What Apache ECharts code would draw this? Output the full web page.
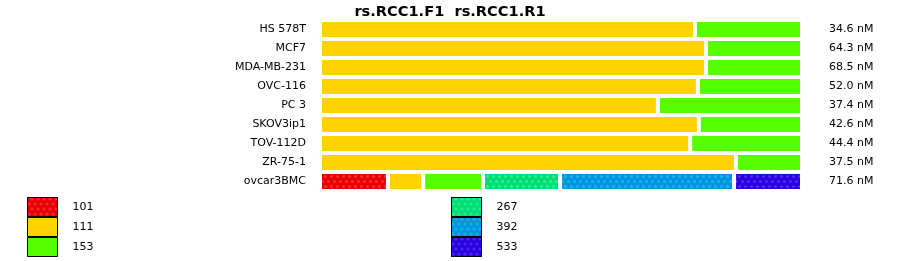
<!DOCTYPE html>
<html>
<head>
<meta charset="utf-8">
<script src="https://cdn.jsdelivr.net/npm/echarts@6/dist/echarts.min.js"></script>
<style>
html,body{margin:0;padding:0;background:#fff;}
#chart{width:900px;height:261px;}
</style>
</head>
<body>
<div id="chart"></div>
<script>
var titleText = 'rs.RCC1.F1  rs.RCC1.R1';
var categories = ['HS 578T','MCF7','MDA-MB-231','OVC-116','PC 3','SKOV3ip1','TOV-112D','ZR-75-1','ovcar3BMC'];
var concentrations = ['34.6 nM','64.3 nM','68.5 nM','52.0 nM','37.4 nM','42.6 nM','44.4 nM','37.5 nM','71.6 nM'];
var seriesNames = ['101','111','153','267','392','533'];
var s101 = [null,null,null,null,null,null,null,null,14.1];
var s111 = [77.8,80.1,80.1,78.4,70.1,78.6,76.8,86.3,7.3];
var s153 = [22.2,19.9,19.9,21.6,29.9,21.4,23.2,13.7,12.4];
var s267 = [null,null,null,null,null,null,null,null,16.0];
var s392 = [null,null,null,null,null,null,null,null,36.1];
var s533 = [null,null,null,null,null,null,null,null,14.1];

var seriesValues = [s101,s111,s153,s267,s392,s533];
var colors = ['#E60000','#FFD200','#55FF00','#00DD77','#0096DC','#2A00DD'];
var decalColors = ['#FF3030',null,null,'#30F090','#25AEFF','#4A30FF'];

var FONT = 'DejaVu Sans';

function makeDecal(c){
  if(!c) return null;
  return {
    symbol:'circle',
    symbolSize:1,
    color:c,
    dashArrayX:[[3,3],[0,3,3,0]],
    dashArrayY:[3,1.5],
    rotation:0
  };
}

var series = seriesNames.map(function(n,i){
  var st = {color:colors[i], borderColor:'#fff', borderWidth:2};
  var d = makeDecal(decalColors[i]);
  if(d) st.decal = d;
  return {
    name:n,
    type:'bar',
    stack:'all',
    barCategoryGap:0,
    data:seriesValues[i],
    itemStyle:st,
    emphasis:{disabled:true}
  };
});

var legendCommon = {
  orient:'vertical',
  top:197,
  height:64,
  padding:0,
  itemWidth:30,
  itemHeight:19,
  itemGap:0,
  icon:'rect',
  selectedMode:false,
  itemStyle:{borderColor:'#000',borderWidth:1},
  textStyle:{fontFamily:FONT,fontSize:11,color:'#000',padding:[0,0,0,10]}
};

var chart = echarts.init(document.getElementById('chart'),null,{renderer:'canvas'});
chart.setOption({
  animation:false,
  backgroundColor:'#fff',
  title:{
    text:titleText,
    left:'center',
    top:0,
    textStyle:{fontFamily:FONT,fontSize:14.6,fontWeight:'bold',color:'#000'}
  },
  legend:[
    Object.assign({left:27,data:seriesNames.slice(0,3)},legendCommon),
    Object.assign({left:451,data:seriesNames.slice(3)},legendCommon)
  ],
  grid:{left:320,top:20,width:482,height:171,containLabel:false},
  xAxis:{type:'value',min:0,max:100,show:false},
  yAxis:[
    {type:'category',data:categories,inverse:true,position:'left',
     axisLine:{show:false},axisTick:{show:false},splitLine:{show:false},
     axisLabel:{fontFamily:FONT,fontSize:11,color:'#000',margin:14}},
    {type:'category',data:concentrations,inverse:true,position:'right',
     axisLine:{show:false},axisTick:{show:false},splitLine:{show:false},
     axisLabel:{fontFamily:FONT,fontSize:11,color:'#000',margin:27,align:'left'}}
  ],
  series:series
});
</script>
</body>
</html>
